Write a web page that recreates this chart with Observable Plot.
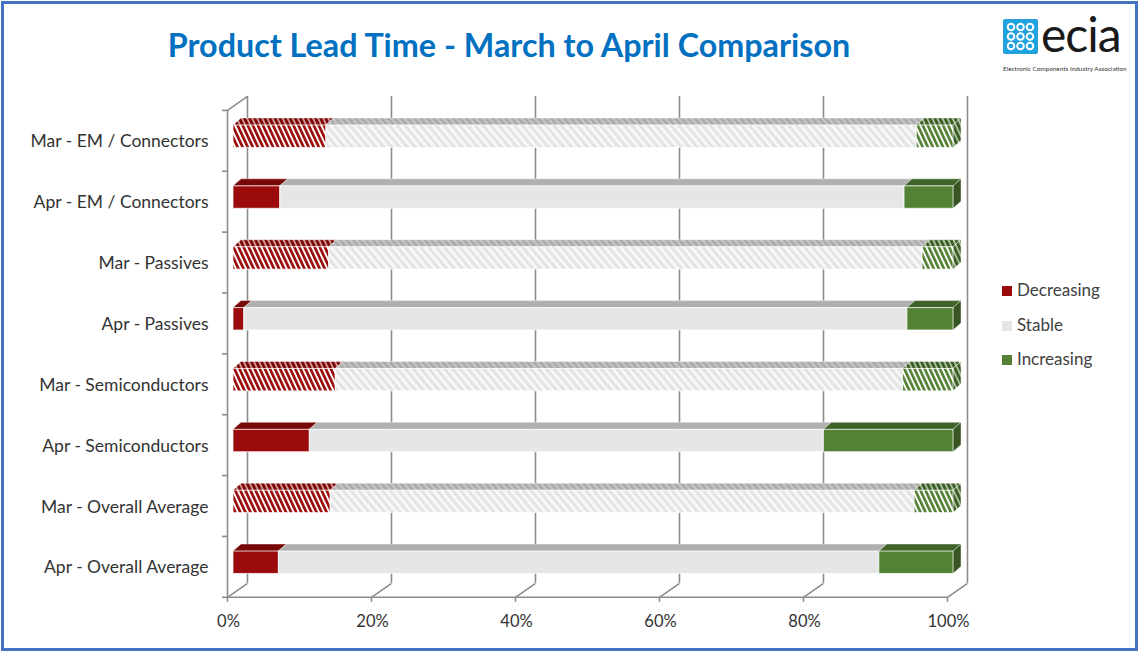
<!DOCTYPE html>
<html>
<head>
<meta charset="utf-8">
<script src="https://cdn.jsdelivr.net/npm/d3@7"></script>
<script src="https://cdn.jsdelivr.net/npm/@observablehq/plot@0.6"></script>
<style>
  html, body { margin: 0; padding: 0; background: #fff; }
  #wrap { position: relative; width: 1139px; height: 652px; overflow: hidden; font-family: Lato, "Open Sans", sans-serif; }
  #chart { position: absolute; left: 0; top: 0; }
  #frame { position: absolute; left: 1px; top: 1px; width: 1131px; height: 644px; border: 3px solid #4472C4; pointer-events: none; }
  #title { position: absolute; left: 0; width: 1018px; top: 25px; line-height: 40px; text-align: center; font-weight: bold; font-size: 32.3px; color: #0070C0; white-space: nowrap; }
  #logo { position: absolute; left: 1003px; top: 18px; width: 130px; height: 56px; }
  #logo .word { position: absolute; left: 38px; top: 1px; height: 30px; line-height: 30px; font-size: 48px; letter-spacing: -1px; color: #1a1a1a; font-family: Lato, sans-serif; }
  #logo .sub { position: absolute; left: 0; top: 47px; line-height: 7px; font-size: 6.4px; color: #333; white-space: nowrap; }
  #legend { position: absolute; left: 1002px; top: 280px; font-size: 17px; color: #404040; }
  #legend .item { position: relative; height: 34.5px; }
  #legend .sw { position: absolute; left: 0; top: 6px; width: 10px; height: 10px; }
  #legend .lb { position: absolute; left: 15px; top: -1px; white-space: nowrap; }
</style>
</head>
<body>
<svg width="0" height="0" style="position:absolute">
  <defs>
    <pattern id="hRed" patternUnits="userSpaceOnUse" width="4.6" height="10" patternTransform="rotate(-25)">
      <rect width="4.6" height="10" fill="#ffffff"/><rect width="2.7" height="10" fill="#9B0B0B"/>
    </pattern>
    <pattern id="hRedTop" patternUnits="userSpaceOnUse" width="4.6" height="10" patternTransform="rotate(-25)">
      <rect width="4.6" height="10" fill="#d9a0a0"/><rect width="2.9" height="10" fill="#7a0707"/>
    </pattern>
    <pattern id="hGreen" patternUnits="userSpaceOnUse" width="4.6" height="10" patternTransform="rotate(-25)">
      <rect width="4.6" height="10" fill="#ffffff"/><rect width="2.7" height="10" fill="#548235"/>
    </pattern>
    <pattern id="hGreenTop" patternUnits="userSpaceOnUse" width="4.6" height="10" patternTransform="rotate(-25)">
      <rect width="4.6" height="10" fill="#b5c7a8"/><rect width="2.9" height="10" fill="#3b5e26"/>
    </pattern>
    <pattern id="hStable" patternUnits="userSpaceOnUse" width="6" height="10" patternTransform="rotate(-40)">
      <rect width="6" height="10" fill="#f7f7f7"/><rect width="3" height="10" fill="#e3e3e3"/>
    </pattern>
    <pattern id="hStableTop" patternUnits="userSpaceOnUse" width="5" height="10" patternTransform="rotate(-40)">
      <rect width="5" height="10" fill="#c4c4c4"/><rect width="2.5" height="10" fill="#a9a9a9"/>
    </pattern>
  </defs>
</svg>
<div id="wrap">
  <div id="chart"></div>
  <div id="title">Product Lead Time - March to April Comparison</div>
  <div id="logo">
    <svg width="35" height="35" style="position:absolute;left:0;top:1px">
      <rect width="35" height="35" rx="2" fill="#1FA2DD"/>
      <g fill="none" stroke="#fff" stroke-width="2">
        <circle cx="8" cy="8" r="3.3"/><circle cx="17.5" cy="8" r="3.3"/><circle cx="27" cy="8" r="3.3"/>
        <circle cx="8" cy="17.5" r="3.3"/><circle cx="17.5" cy="17.5" r="3.3"/><circle cx="27" cy="17.5" r="3.3"/>
        <circle cx="8" cy="27" r="3.3"/><circle cx="17.5" cy="27" r="3.3"/><circle cx="27" cy="27" r="3.3"/>
      </g>
    </svg>
    <div class="word">ecia</div>
    <div class="sub">Electronic Components Industry Association</div>
  </div>
  <div id="legend"></div>
  <div id="frame"></div>
</div>
<script>
// ---- data ----
const categories = [
  "Mar - EM / Connectors",
  "Apr - EM / Connectors",
  "Mar - Passives",
  "Apr - Passives",
  "Mar - Semiconductors",
  "Apr - Semiconductors",
  "Mar - Overall Average",
  "Apr - Overall Average"
];
const decreasing = [12.9, 6.5, 13.3, 1.5, 14.2, 10.6, 13.5, 6.3];
const stable     = [82.0, 86.7, 82.4, 92.1, 78.8, 71.4, 81.1, 83.4];
const increasing = [5.1, 6.8, 4.3, 6.4, 7.0, 18.0, 5.4, 10.3];
const seriesNames = ["Decreasing", "Stable", "Increasing"];
const xTicks = [0, 20, 40, 60, 80, 100];
const xTickLabels = ["0%", "20%", "40%", "60%", "80%", "100%"];

// ---- styles ----
const colors = {
  Decreasing: {front: "#9B0B0B", top: "#780707", side: "#5e0505", hFront: "url(#hRed)", hTop: "url(#hRedTop)", hSide: "url(#hRedTop)"},
  Stable:     {front: "#E6E6E6", top: "#B0B0B0", side: "#9a9a9a", hFront: "url(#hStable)", hTop: "url(#hStableTop)", hSide: "url(#hStableTop)"},
  Increasing: {front: "#548235", top: "#3E6328", side: "#375623", hFront: "url(#hGreen)", hTop: "url(#hGreenTop)", hSide: "url(#hGreenTop)"}
};
const values = {Decreasing: decreasing, Stable: stable, Increasing: increasing};

// geometry helpers (pixel -> data units)
const X0 = 233, X1 = 953, Y0 = 105.9, Y1 = 592.8;
const kx = 100 / (X1 - X0);
const ky = categories.length / (Y1 - Y0);
const T = 0.314, B = 0.682;          // bar front face within a row
const DX = 8 * kx, DY = 7 * ky;     // 3D depth

const fronts = [], tops = [], sides = [];
categories.forEach((cat, i) => {
  const hatched = cat.startsWith("Mar");
  let acc = 0;
  seriesNames.forEach((s, j) => {
    const v = values[s][i];
    const a = acc, b = acc + v;
    acc = b;
    const c = colors[s];
    const id = i + "-" + s;
    fronts.push({x1: a, x2: b, y1: i + T, y2: i + B, fill: hatched ? c.hFront : c.front});
    const tf = hatched ? c.hTop : c.top;
    tops.push({id, y: i + T, x1: a, x2: b, fill: tf});
    tops.push({id, y: i + T - DY, x1: a + DX, x2: b + DX, fill: tf});
    if (j === seriesNames.length - 1) {
      const sf = hatched ? c.hSide : c.side;
      sides.push({id, x: b, y1: i + B, y2: i + T, fill: sf});
      sides.push({id, x: b + DX, y1: i + B - DY, y2: i + T - DY, fill: sf});
    }
  });
});

const grid = "#8c8c8c";
const n = categories.length;

const chart = Plot.plot({
  width: 1139,
  height: 652,
  margin: 0,
  x: {domain: [0, 100], range: [X0, X1], axis: null},
  y: {domain: [0, n], range: [Y0, Y1], axis: null},
  color: {type: "identity"},
  style: {background: "transparent", fontFamily: "Lato, 'Open Sans', sans-serif"},
  marks: [
    // back wall gridlines
    Plot.ruleX(xTicks, {x: d => d, y1: () => 0, y2: () => n, dx: 14, dy: -10, stroke: grid, strokeWidth: 1.6}),
    // floor diagonals
    Plot.link(xTicks, {x1: d => d + 14 * kx, y1: () => n - 10 * ky, x2: d => d - 6 * kx, y2: () => n + 4 * ky, stroke: grid, strokeWidth: 1.6}),
    // left wall (front) and top-left diagonal
    Plot.ruleX([0], {x: d => d, y1: () => 0, y2: () => n, dx: -6, dy: 4, stroke: grid, strokeWidth: 1.6}),
    Plot.link([0], {x1: d => d - 6 * kx, y1: () => 4 * ky, x2: d => d + 14 * kx, y2: () => -10 * ky, stroke: grid, strokeWidth: 1.6}),
    // front floor line + ticks
    Plot.ruleY([n], {y: d => d, x1: () => 0, x2: () => 100, dx: -6, dy: 4, stroke: grid, strokeWidth: 1.6}),
    Plot.ruleX(xTicks, {x: d => d, y1: () => n, y2: () => n + 5 * ky, dx: -6, dy: 4, stroke: grid, strokeWidth: 1.6}),
    Plot.ruleY(d3.range(n + 1), {y: d => d, x1: () => -5 * kx, x2: () => 0, dx: -6, dy: 4, stroke: grid, strokeWidth: 1.6}),
    // bars: top faces, side faces, front faces
    Plot.areaX(tops, {y: "y", x1: "x1", x2: "x2", z: "id", fill: "fill", stroke: "#ffffff", strokeOpacity: 0.5, strokeWidth: 0.8}),
    Plot.areaY(sides, {x: "x", y1: "y1", y2: "y2", z: "id", fill: "fill", stroke: "#ffffff", strokeOpacity: 0.5, strokeWidth: 0.8}),
    Plot.rect(fronts, {x1: "x1", x2: "x2", y1: "y1", y2: "y2", fill: "fill", stroke: "#ffffff", strokeOpacity: 0.7, strokeWidth: 1}),
    // category labels
    Plot.text(categories, {x: () => 0, y: (d, i) => i + 0.5, text: d => d, dx: -25, dy: 5, textAnchor: "end", fontSize: 17.5, fill: "#333333"}),
    // x tick labels
    Plot.text(xTicks, {x: d => d, y: () => n, text: (d, i) => xTickLabels[i], dx: -5, dy: 28, fontSize: 16.5, fill: "#333333"})
  ]
});
document.getElementById("chart").appendChild(chart);

// legend
const legend = document.getElementById("legend");
seriesNames.forEach(s => {
  const item = document.createElement("div");
  item.className = "item";
  item.innerHTML = `<div class="sw" style="background:${colors[s].front}"></div><div class="lb">${s}</div>`;
  legend.appendChild(item);
});
</script>
</body>
</html>
